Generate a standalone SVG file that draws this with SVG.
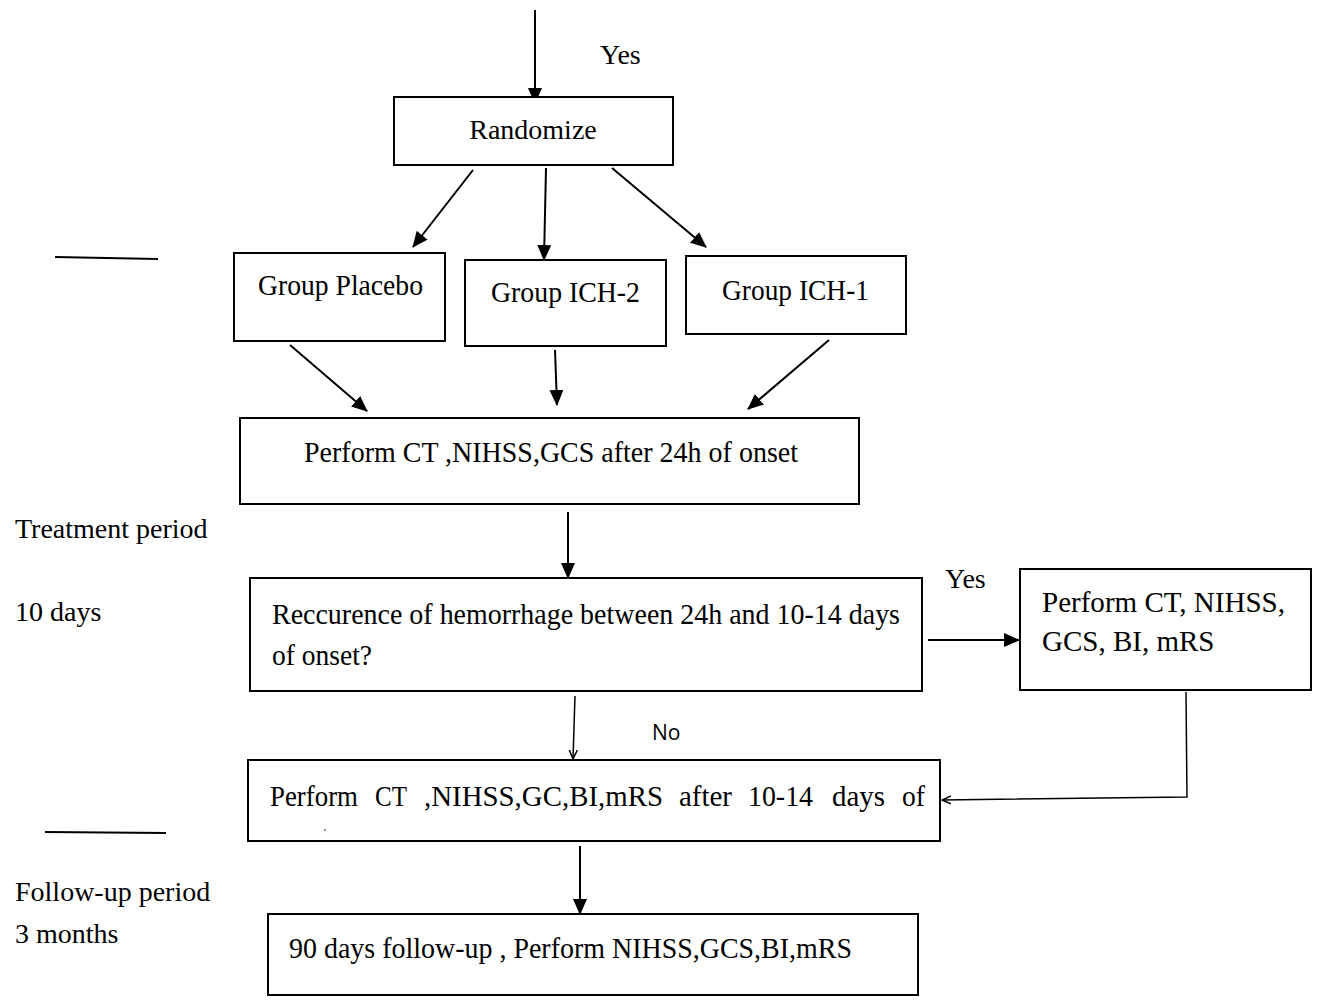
<svg xmlns="http://www.w3.org/2000/svg" width="1317" height="1001" viewBox="0 0 1317 1001">
<style>
.box{fill:#fff;stroke:#000;stroke-width:2}
.t{font-family:"Liberation Serif","Times New Roman",serif;font-size:28px;fill:#000}
.b{font-family:"Liberation Serif","Times New Roman",serif;font-size:29px;fill:#000}
.s{font-family:"Open Sans","Liberation Sans",sans-serif;font-size:21px;fill:#000}
.c{stroke:#000;stroke-width:2;fill:none}
.thin{stroke:#000;stroke-width:1.5;fill:none}
</style>
<defs>
<marker id="ah" markerWidth="16" markerHeight="14" refX="15" refY="7" orient="auto" markerUnits="userSpaceOnUse">
<path d="M0,0 L16,7 L0,14 Z" fill="#000"/>
</marker>
<marker id="oh" markerWidth="10" markerHeight="10" refX="9" refY="5" orient="auto" markerUnits="userSpaceOnUse">
<path d="M0,1 L9,5 L0,9" fill="none" stroke="#000" stroke-width="1.5"/>
</marker>
</defs>
<rect width="1317" height="1001" fill="#fff"/>
<g id="connectors">
<line class="c" x1="535" y1="10" x2="535" y2="103" marker-end="url(#ah)"/>
<line class="c" x1="473" y1="170" x2="413" y2="247" marker-end="url(#ah)"/>
<line class="c" x1="546" y1="168" x2="544" y2="260" marker-end="url(#ah)"/>
<line class="c" x1="612" y1="168" x2="706" y2="247" marker-end="url(#ah)"/>
<line class="c" x1="290" y1="345" x2="367" y2="411" marker-end="url(#ah)"/>
<line class="c" x1="555" y1="350" x2="557" y2="405" marker-end="url(#ah)"/>
<line class="c" x1="829" y1="340" x2="748" y2="409" marker-end="url(#ah)"/>
<line class="c" x1="568" y1="512" x2="568" y2="578" marker-end="url(#ah)"/>
<line class="c" x1="928" y1="640" x2="1019" y2="640" marker-end="url(#ah)"/>
<line class="thin" x1="575" y1="696" x2="573" y2="759" marker-end="url(#oh)"/>
<polyline class="thin" points="1186,692 1187,797 942,800" marker-end="url(#oh)"/>
<line class="c" x1="580" y1="846" x2="580" y2="914" marker-end="url(#ah)"/>
<line class="c" x1="55" y1="257" x2="158" y2="259"/>
<line class="c" x1="45" y1="832" x2="166" y2="833"/>
</g>
<text class="t" x="600" y="64">Yes</text>
<g id="randomize"><rect class="box" x="394" y="97" width="279" height="68"/><text class="t" x="533" y="139" text-anchor="middle">Randomize</text></g>
<g id="placebo"><rect class="box" x="234" y="253" width="211" height="88"/><text class="b" x="258" y="295" textLength="165" lengthAdjust="spacingAndGlyphs">Group Placebo</text></g>
<g id="ich2"><rect class="box" x="465" y="260" width="201" height="86"/><text class="b" x="491" y="302" textLength="149" lengthAdjust="spacingAndGlyphs">Group ICH-2</text></g>
<g id="ich1"><rect class="box" x="686" y="256" width="220" height="78"/><text class="b" x="722" y="300" textLength="147" lengthAdjust="spacingAndGlyphs">Group ICH-1</text></g>
<g id="ct24"><rect class="box" x="240" y="418" width="619" height="86"/><text class="b" x="304" y="462" textLength="494" lengthAdjust="spacingAndGlyphs">Perform CT ,NIHSS,GCS after 24h of onset</text></g>
<g id="recur"><rect class="box" x="250" y="578" width="672" height="113"/><text class="b" x="272" y="624" textLength="628" lengthAdjust="spacingAndGlyphs">Reccurence of hemorrhage between 24h and 10-14 days</text><text class="b" x="272" y="665" textLength="100" lengthAdjust="spacingAndGlyphs">of onset?</text></g>
<text class="t" x="945" y="588">Yes</text>
<g id="ctyes"><rect class="box" x="1020" y="569" width="291" height="121"/><text class="b" x="1042" y="612" textLength="243" lengthAdjust="spacingAndGlyphs">Perform CT, NIHSS,</text><text class="b" x="1042" y="651">GCS, BI, mRS</text></g>
<text class="s" x="652" y="740">No</text>
<g id="ct1014"><rect class="box" x="248" y="760" width="692" height="81"/><text class="b" y="806"><tspan x="270" textLength="88" lengthAdjust="spacingAndGlyphs">Perform</tspan><tspan x="375" textLength="32" lengthAdjust="spacingAndGlyphs">CT</tspan><tspan x="424" textLength="239" lengthAdjust="spacingAndGlyphs">,NIHSS,GC,BI,mRS</tspan><tspan x="679" textLength="53" lengthAdjust="spacingAndGlyphs">after</tspan><tspan x="748" textLength="65" lengthAdjust="spacingAndGlyphs">10-14</tspan><tspan x="832" textLength="53" lengthAdjust="spacingAndGlyphs">days</tspan><tspan x="902" textLength="23" lengthAdjust="spacingAndGlyphs">of</tspan></text><circle cx="325" cy="830" r="0.8" fill="#000"/></g>
<g id="followup"><rect class="box" x="268" y="914" width="650" height="81"/><text class="b" x="289" y="958" textLength="563" lengthAdjust="spacingAndGlyphs">90 days follow-up , Perform NIHSS,GCS,BI,mRS</text></g>
<text class="t" x="15" y="538">Treatment period</text>
<text class="t" x="15" y="621">10 days</text>
<text class="t" x="15" y="901">Follow-up period</text>
<text class="t" x="15" y="943">3 months</text>
</svg>
